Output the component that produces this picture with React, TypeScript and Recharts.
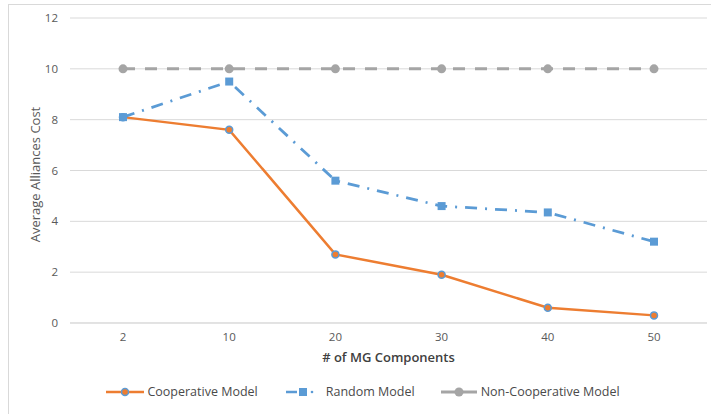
import React from 'react';
import { LineChart, Line, XAxis, YAxis, CartesianGrid, Legend } from 'recharts';

const categories = ['2', '10', '20', '30', '40', '50'];
const cooperative = [8.1, 7.6, 2.7, 1.9, 0.6, 0.3];
const randomModel = [8.1, 9.5, 5.6, 4.6, 4.35, 3.2];
const nonCooperative = [10, 10, 10, 10, 10, 10];
const yTicks = [0, 2, 4, 6, 8, 10, 12];

const data = categories.map((c, i) => ({
  mg: c,
  coop: cooperative[i],
  random: randomModel[i],
  noncoop: nonCooperative[i],
}));

const ORANGE = '#ED7D31';
const BLUE = '#5B9BD5';
const GRAY = '#A5A5A5';
const FONT = '"Open Sans", "Liberation Sans", sans-serif';

const SquareDot = (props: any) => {
  const { cx, cy, index } = props;
  if (cx == null || cy == null) return null;
  return <rect key={'sq' + index} x={cx - 4} y={cy - 4} width={8} height={8} fill={BLUE} />;
};

const LegendContent = () => (
  <div style={{ display: 'flex', justifyContent: 'center', alignItems: 'center', fontFamily: FONT, fontSize: 12.5, color: '#4a4a4a', paddingLeft: 10 }}>
    <div style={{ display: 'flex', alignItems: 'center', marginRight: 28 }}>
      <svg width={38} height={10}>
        <line x1={0} y1={5} x2={38} y2={5} stroke={ORANGE} strokeWidth={2.5} />
        <circle cx={19} cy={5} r={3.5} fill={ORANGE} stroke={BLUE} strokeWidth={1.5} />
      </svg>
      <span style={{ marginLeft: 3 }}>Cooperative Model</span>
    </div>
    <div style={{ display: 'flex', alignItems: 'center', marginRight: 26 }}>
      <svg width={30} height={10}>
        <line x1={0} y1={5} x2={11} y2={5} stroke={BLUE} strokeWidth={2.5} />
        <rect x={13} y={1} width={8} height={8} fill={BLUE} />
        <circle cx={26} cy={5} r={1.3} fill={BLUE} />
      </svg>
      <span style={{ marginLeft: 10 }}>Random Model</span>
    </div>
    <div style={{ display: 'flex', alignItems: 'center' }}>
      <svg width={36} height={10}>
        <line x1={0} y1={5} x2={36} y2={5} stroke={GRAY} strokeWidth={3} />
        <circle cx={18} cy={5} r={4.5} fill={GRAY} />
      </svg>
      <span style={{ marginLeft: 4 }}>Non-Cooperative Model</span>
    </div>
  </div>
);

export default function App() {
  return (
    <div
      style={{
        position: 'fixed',
        left: 8,
        top: 4,
        width: 720,
        height: 430,
        border: '1px solid #d9d9d9',
        background: '#fff',
        boxSizing: 'border-box',
      }}
    >
      <LineChart width={702} height={408} data={data} margin={{ top: 13, right: 4, left: 0, bottom: 0 }}>
        <CartesianGrid vertical={false} stroke="#d9d9d9" />
        <XAxis
          dataKey="mg"
          height={60}
          padding={{ left: 53, right: 53 }}
          tickLine={false}
          axisLine={{ stroke: '#d9d9d9' }}
          tickMargin={4}
          tick={{ fill: '#595959', fontSize: 11.5, fontFamily: FONT }}
          label={{ value: '# of MG Components', position: 'insideTop', offset: 30, fill: '#404040', fontSize: 13, fontWeight: 600, fontFamily: FONT }}
        />
        <YAxis
          width={61}
          domain={[0, 12]}
          ticks={yTicks}
          tickLine={false}
          axisLine={false}
          tickMargin={6}
          tick={{ fill: '#595959', fontSize: 11.5, fontFamily: FONT }}
          label={{ value: 'Average Alliances Cost', angle: -90, position: 'center', dx: -4, dy: 4, fill: '#595959', fontSize: 13, fontFamily: FONT }}
        />
        <Legend verticalAlign="bottom" height={30} content={<LegendContent />} />
        <Line
          type="linear"
          dataKey="coop"
          name="Cooperative Model"
          stroke={ORANGE}
          strokeWidth={2.5}
          dot={{ r: 3.5, fill: ORANGE, stroke: BLUE, strokeWidth: 1.5 }}
          activeDot={false}
          isAnimationActive={false}
        />
        <Line
          type="linear"
          dataKey="random"
          name="Random Model"
          stroke={BLUE}
          strokeWidth={2.75}
          strokeDasharray="12 8 2 8"
          dot={SquareDot}
          activeDot={false}
          isAnimationActive={false}
        />
        <Line
          type="linear"
          dataKey="noncoop"
          name="Non-Cooperative Model"
          stroke={GRAY}
          strokeWidth={3}
          strokeDasharray="12 10"
          dot={{ r: 4.5, fill: GRAY, stroke: GRAY, strokeWidth: 0 }}
          activeDot={false}
          isAnimationActive={false}
        />
      </LineChart>
    </div>
  );
}
